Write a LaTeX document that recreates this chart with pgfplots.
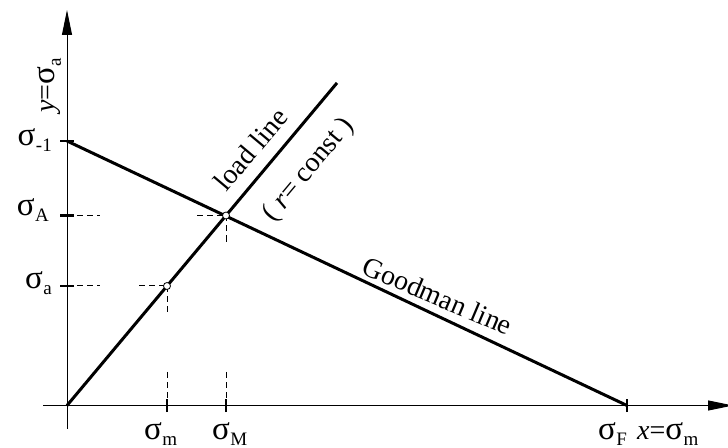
\documentclass[border=0pt]{standalone}
\usepackage{fontspec}
\setmainfont{Liberation Serif}
\usepackage{pgfplots}
\pgfplotsset{compat=1.18}
\usetikzlibrary{arrows.meta}
\newcommand{\sg}{{\fontsize{33bp}{34bp}\selectfont σ}}
\newcommand{\sig}[1]{\sg\kern0.5bp\raisebox{-6bp}{\fontsize{19bp}{20bp}\selectfont #1}}
\begin{document}
\begin{tikzpicture}[lbl/.style={font=\fontsize{28bp}{30bp}\selectfont, inner sep=0pt}]
\begin{axis}[
  x=1bp, y=1bp,
  xmin=-24, xmax=666, ymin=-23, ymax=395.5,
  anchor=south west, at={(-24bp,-23bp)},
  axis lines=middle,
  axis line style={line width=1bp, -{Triangle[length=25bp,width=10bp]}},
  xtick={100,159,560}, ytick={119.5,190,264.5},
  xticklabels={,,}, yticklabels={,,},
  tick style={line width=2.5bp, black},
  major tick length=13bp, tick align=center,
  clip=false,
]
% Goodman line
\addplot[line width=3bp, black] coordinates {(0,264.5) (560,0)};
% load line
\addplot[line width=3bp, black] coordinates {(0,0) (270,322.6)};
% dashed helper lines
\addplot[line width=1bp, dash pattern=on 6bp off 4bp] coordinates {(0,190) (33,190)};
\addplot[line width=1bp, dash pattern=on 6bp off 4bp] coordinates {(130,190) (159,190)};
\addplot[line width=1bp, dash pattern=on 6bp off 4bp] coordinates {(0,119.5) (33,119.5)};
\addplot[line width=1bp, dash pattern=on 6bp off 4bp] coordinates {(72,119.5) (100,119.5)};
\addplot[line width=1bp, dash pattern=on 6bp off 4bp] coordinates {(100,119.5) (100,92.5)};
\addplot[line width=1bp, dash pattern=on 6bp off 4bp] coordinates {(100,33.5) (100,0)};
\addplot[line width=1bp, dash pattern=on 6bp off 4bp] coordinates {(159,190) (159,160.5)};
\addplot[line width=1bp, dash pattern=on 6bp off 4bp] coordinates {(159,33.5) (159,0)};
% points
\addplot[only marks, mark=*, mark size=3.5bp, mark options={fill=white, draw=black, line width=0.8bp}] coordinates {(100,119.5) (159,190)};
% labels
\node[lbl, anchor=base east] at (axis cs:-15,260) {\sig{-1}};
\node[lbl, anchor=base east] at (axis cs:-18,190) {\sig{A}};
\node[lbl, anchor=base east] at (axis cs:-15,117) {\sig{a}};
\node[lbl, anchor=base west] at (axis cs:77,-34) {\sig{m}};
\node[lbl, anchor=base west] at (axis cs:145,-34) {\sig{M}};
\node[lbl, anchor=base west] at (axis cs:531,-34) {\sig{F}};
\node[lbl, anchor=base west] at (axis cs:570,-34) {\textit{x}=\sig{m}};
\node[lbl, anchor=base west, rotate=90] at (axis cs:-12,292.5) {\textit{y}=\sig{a}};
\node[lbl, anchor=base, rotate=50] at (axis cs:191,250) {load line};
\node[lbl, anchor=base, rotate=50] at (axis cs:247,231) {( \textit{r}= const )};
\node[lbl, anchor=base, rotate=-23] at (axis cs:367,101) {Goodman line};
\end{axis}
\pgfresetboundingbox
\useasboundingbox (-67bp,-42.5bp) rectangle (661bp,405.5bp);
\end{tikzpicture}
\end{document}
